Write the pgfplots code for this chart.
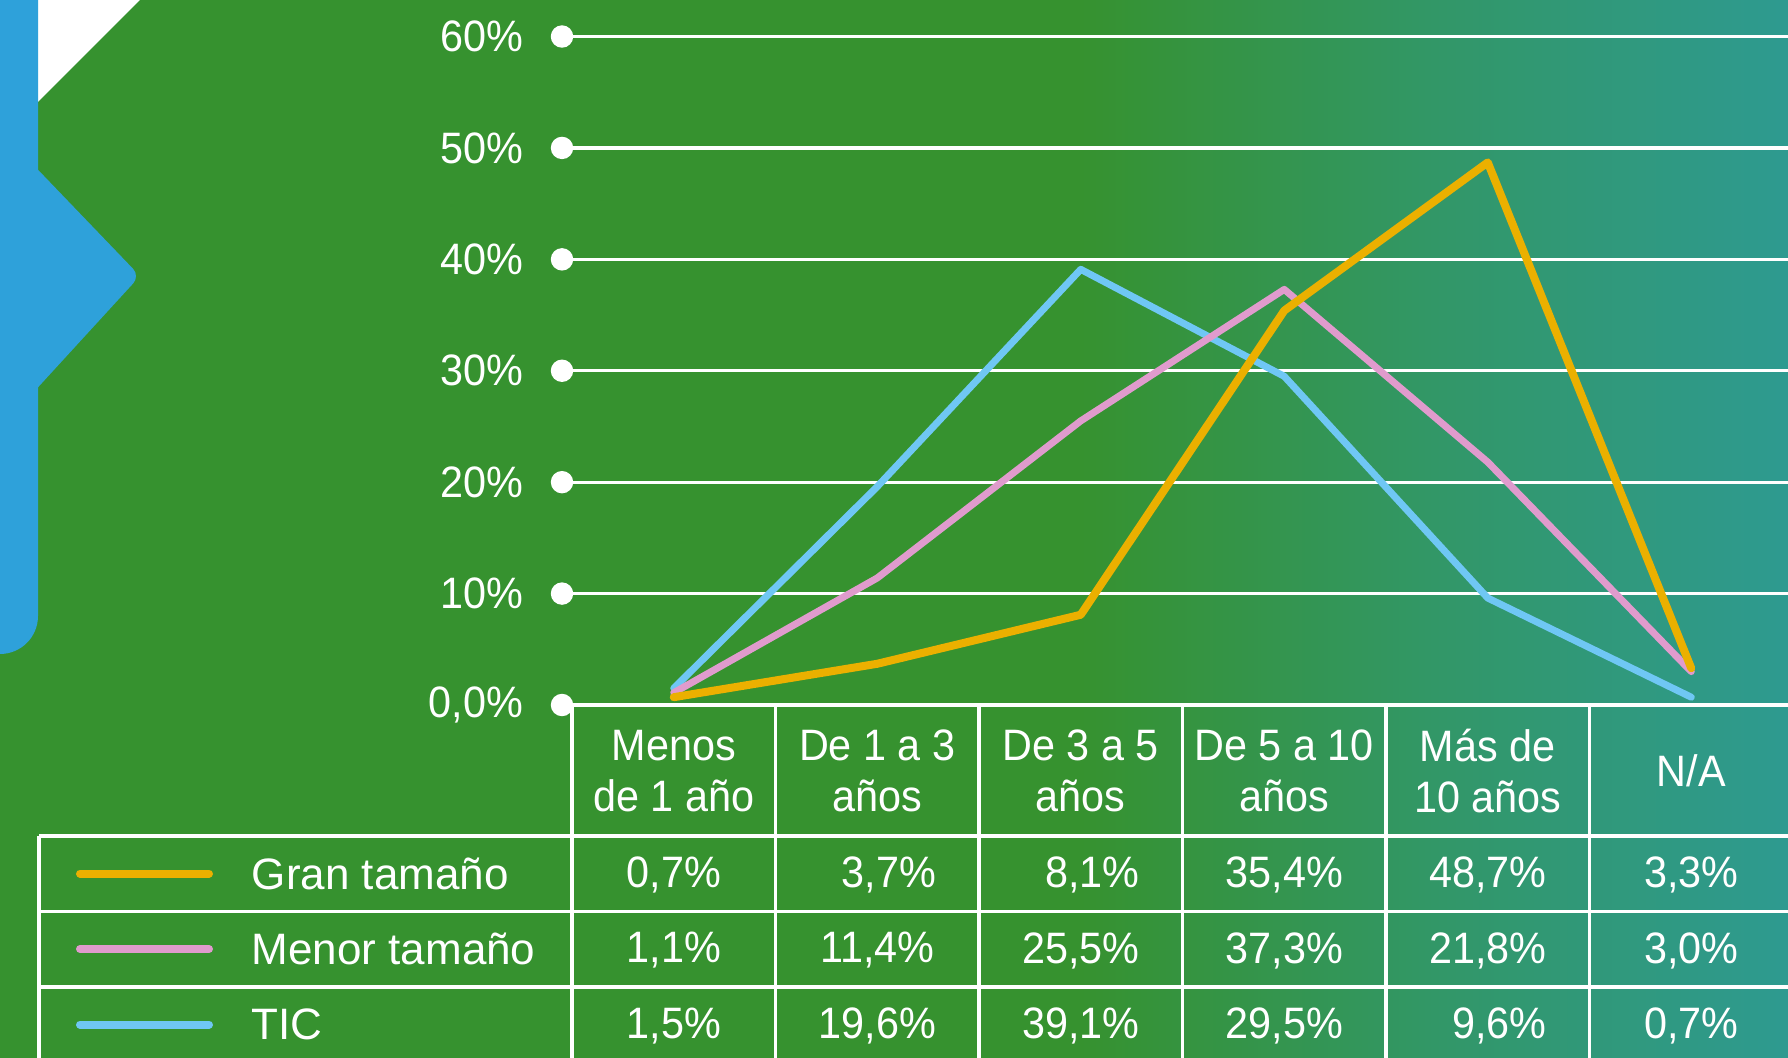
\documentclass[border=0pt]{standalone}
\usepackage{pgfplots}
\pgfplotsset{compat=1.18}
\usepackage{fontspec}
\setmainfont{Liberation Sans}
\newfontfamily\narrowfont{Liberation Sans}[FakeStretch=0.94]

\definecolor{bggreen}{HTML}{36922F}
\definecolor{bgmid}{HTML}{329767}
\definecolor{bgteal}{HTML}{2E9A90}
\definecolor{decblue}{HTML}{2EA1DA}
\definecolor{cgran}{HTML}{EBB000}
\definecolor{cmenor}{HTML}{E09BCD}
\definecolor{ctic}{HTML}{6FC7F4}

\newcommand{\tabfont}{\fontsize{11}{12.75}\selectfont}
\newcommand{\numfont}{\narrowfont\fontsize{11}{12.75}\selectfont}

\begin{document}
\begin{tikzpicture}
% 1 px of the reference = 0.25pt
\useasboundingbox (0pt,0pt) rectangle (447pt,-264.5pt);
\clip (0pt,0pt) rectangle (447pt,-264.5pt);

\begin{scope}[x=0.25pt,y=-0.25pt]
  % background
  \fill[bggreen] (0,0) rectangle (1090,1058);
  \shade[left color=bggreen, right color=bgteal, middle color=bgmid] (1080,0) rectangle (1788,1058);
  % white corner + blue decoration
  \fill[white] (0,0) -- (140,0) -- (0,140) -- cycle;
  \fill[decblue, rounded corners=9.5pt] (-60,-60) rectangle (38,654);
  \fill[decblue, rounded corners=2.5pt] (20,151) -- (140,276) -- (20,407) -- cycle;
\end{scope}

\begin{axis}[
  at={(140.5pt,-176.25pt)}, anchor=south west,
  scale only axis, width=306.5pt, height=167.125pt,
  xmin=-0.5491, xmax=5.4754, ymin=0, ymax=60,
  axis line style={draw=none}, tick style={draw=none},
  xtick=\empty,
  ytick={0,10,20,30,40,50,60},
  yticklabels={{0,0\%},10\%,20\%,30\%,40\%,50\%,60\%},
  yticklabel style={anchor=east, inner sep=0pt, xshift=-9.5pt, text=white, font=\numfont},
  ymajorgrids, grid style={white, line width=0.8pt},
  clip=false,
]
\addplot[only marks, mark=*, mark size=2.6pt, white] coordinates {
  (-0.5491,0) (-0.5491,10) (-0.5491,20) (-0.5491,30) (-0.5491,40) (-0.5491,50) (-0.5491,60)};
\addplot[ctic, line width=1.75pt, line join=round, line cap=round] coordinates {
  (0,1.5) (1,19.6) (2,39.1) (3,29.5) (4,9.6) (5,0.7)};
\addplot[cmenor, line width=1.75pt, line join=round, line cap=round] coordinates {
  (0,1.1) (1,11.4) (2,25.5) (3,37.3) (4,21.8) (5,3.0)};
\addplot[cgran, line width=2pt, line join=round, line cap=round] coordinates {
  (0,0.7) (1,3.7) (2,8.1) (3,35.4) (4,48.7) (5,3.3)};
\end{axis}

\begin{scope}[x=0.25pt,y=-0.25pt]
  % table grid
  \begin{scope}[white, line width=0.9pt]
    \draw (562,705) -- (1800,705);
    \foreach \yy in {836,911.5,987} \draw (39,\yy) -- (1800,\yy);
    \draw (39,836) -- (39,1070);
    \foreach \i in {0,...,5} \draw ({572+203.5*\i},705) -- ({572+203.5*\i},1070);
  \end{scope}
  \begin{scope}[every node/.style={text=white, font=\numfont, align=center, inner sep=0pt}]
    % header
    \node at (673.75,771) {Menos\\de 1 año};
    \node at (877.25,771) {De 1 a 3\\años};
    \node at (1080.75,771) {De 3 a 5\\años};
    \node at (1284.25,771) {De 5 a 10\\años};
    \node at (1487.75,771) {Más de\\10 años};
    \node at (1691.25,771) {N/A};
    % legend rows
    \draw[cgran, line width=2pt, line cap=round] (80,873.5) -- (209,873.5);
    \draw[cmenor, line width=2pt, line cap=round] (80,949) -- (209,949);
    \draw[ctic, line width=2pt, line cap=round] (80,1024.5) -- (209,1024.5);
    \node[anchor=west, font=\tabfont] at (251,873.5) {Gran tamaño};
    \node[anchor=west, font=\tabfont] at (251,949) {Menor tamaño};
    \node[anchor=west, font=\tabfont] at (251,1024.5) {TIC};
    % values
    \node at (673.75,875) {0,7\%};
    \node at (877.25,875) {\phantom{1}3,7\%};
    \node at (1080.75,875) {\phantom{1}8,1\%};
    \node at (1284.25,875) {35,4\%};
    \node at (1487.75,875) {48,7\%};
    \node at (1691.25,875) {3,3\%};
    \node at (673.75,950.5) {1,1\%};
    \node at (877.25,950.5) {11,4\%};
    \node at (1080.75,950.5) {25,5\%};
    \node at (1284.25,950.5) {37,3\%};
    \node at (1487.75,950.5) {21,8\%};
    \node at (1691.25,950.5) {3,0\%};
    \node at (673.75,1026) {1,5\%};
    \node at (877.25,1026) {19,6\%};
    \node at (1080.75,1026) {39,1\%};
    \node at (1284.25,1026) {29,5\%};
    \node at (1487.75,1026) {\phantom{1}9,6\%};
    \node at (1691.25,1026) {0,7\%};
  \end{scope}
\end{scope}
\end{tikzpicture}
\end{document}
